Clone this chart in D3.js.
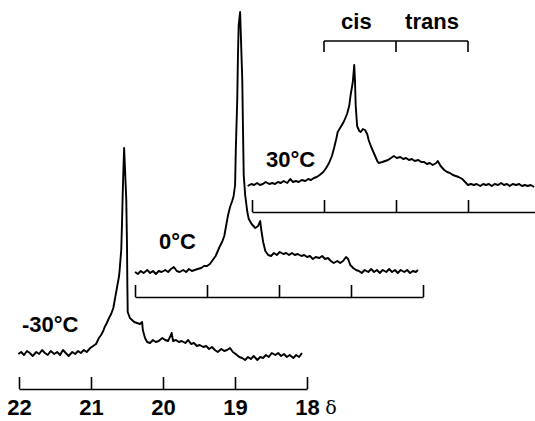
<!DOCTYPE html>
<html>
<head>
<meta charset="utf-8">
<script src="https://cdn.jsdelivr.net/npm/d3@7"></script>
<style>
  body { margin: 0; background: #fff; }
  svg { display: block; }
  .spec { fill: none; stroke: #000; stroke-width: 1.9; stroke-linejoin: round; }
  .frame .domain, .frame .tick line { stroke: #000; stroke-width: 1.6; }
  .lbl, .lbl text { font-family: "Liberation Sans", Arial, sans-serif; font-weight: bold; fill: #000; }
</style>
</head>
<body>
<div class="container"></div>
<script>
(function(){
  const config = {w: 535, h: 421, axisY: 389, tick: 12, font: 22};

  // chemical shift ticks (ppm)
  const ppmTicks = [22, 21, 20, 19, 18];
  const temps = ['-30°C', '0°C', '30°C'];
  const bracketTicks = [21, 20, 19];
  const bracketLabels = [{t: 'cis', ppm: 20.55}, {t: 'trans', ppm: 19.5}];

  // spectra: [ppm, intensity above axis]
  const specM30 = [[22.01,35],[21.97,37],[21.93,34],[21.89,38],[21.85,36],[21.81,33],[21.76,37],[21.72,35],[21.68,39],[21.64,36],
    [21.60,34],[21.56,38],[21.51,35],[21.47,37],[21.43,34],[21.39,39],[21.35,36],[21.31,33],[21.26,37],[21.22,35],
    [21.18,38],[21.14,36],[21.10,39],[21.06,37],[21.01,41],[20.97,43],[20.93,45],[20.89,51],[20.86,54],[20.83,58],
    [20.81,62],[20.78,66],[20.75,71],[20.72,75],[20.69,81],[20.67,89],[20.64,101],[20.61,113],[20.60,121],[20.58,139],
    [20.57,164],[20.56,194],[20.55,219],[20.54,241],[20.53,224],[20.51,189],[20.50,144],[20.495,104],[20.49,77],[20.46,71],
    [20.43,69],[20.40,67],[20.36,66],[20.32,65],[20.29,67],[20.28,59],[20.25,51],[20.22,47],[20.18,46],[20.14,49],
    [20.10,47],[20.06,48],[20.01,51],[19.97,49],[19.93,48],[19.89,54],[19.88,56],[19.86,48],[19.82,49],[19.78,47],
    [19.74,48],[19.69,46],[19.65,49],[19.61,45],[19.57,46],[19.53,43],[19.49,44],[19.44,42],[19.40,43],[19.36,40],
    [19.32,42],[19.28,39],[19.24,37],[19.19,40],[19.15,38],[19.11,39],[19.07,41],[19.03,37],[18.99,35],[18.94,32],
    [18.90,31],[18.86,29],[18.82,32],[18.78,30],[18.74,33],[18.69,29],[18.65,32],[18.61,31],[18.57,34],[18.53,32],
    [18.49,36],[18.44,34],[18.40,36],[18.36,33],[18.32,35],[18.28,32],[18.24,34],[18.19,31],[18.15,34],[18.11,32],[18.07,36]];

  const spec0 = [[22.00,25],[21.96,23],[21.92,26],[21.88,24],[21.83,27],[21.79,24],[21.75,26],[21.71,23],[21.67,26],[21.63,25],
    [21.58,27],[21.54,25],[21.50,28],[21.46,30],[21.42,26],[21.38,25],[21.33,27],[21.29,25],[21.25,28],[21.21,26],
    [21.17,27],[21.13,28],[21.08,29],[21.04,31],[21.00,31],[20.96,33],[20.92,37],[20.88,41],[20.85,46],[20.82,51],
    [20.79,55],[20.76,61],[20.74,69],[20.71,81],[20.68,90],[20.65,96],[20.63,101],[20.61,112],[20.60,147],[20.58,197],
    [20.57,242],[20.56,272],[20.54,285],[20.53,262],[20.51,217],[20.50,167],[20.49,122],[20.47,102],[20.44,85],[20.42,78],
    [20.38,73],[20.33,69],[20.29,71],[20.26,76],[20.25,69],[20.22,55],[20.19,46],[20.15,42],[20.11,41],[20.07,44],
    [20.03,42],[19.99,45],[19.94,43],[19.90,44],[19.86,42],[19.82,44],[19.78,42],[19.74,43],[19.69,41],[19.65,42],
    [19.61,40],[19.57,41],[19.53,38],[19.49,40],[19.44,39],[19.40,41],[19.36,38],[19.32,39],[19.28,36],[19.24,34],
    [19.19,36],[19.15,34],[19.11,36],[19.07,40],[19.04,38],[19.01,32],[18.97,29],[18.93,27],[18.89,26],[18.85,24],
    [18.81,27],[18.76,25],[18.72,28],[18.68,25],[18.64,27],[18.60,24],[18.56,27],[18.51,25],[18.47,28],[18.43,25],
    [18.39,27],[18.35,24],[18.31,27],[18.26,25],[18.22,27],[18.18,24],[18.14,26],[18.10,25],[18.07,27]];

  const spec30 = [[22.06,26],[22.01,28],[21.97,27],[21.93,29],[21.89,27],[21.85,28],[21.81,30],[21.76,28],[21.72,29],[21.68,28],
    [21.64,30],[21.60,29],[21.56,31],[21.51,29],[21.47,33],[21.43,30],[21.39,31],[21.35,30],[21.31,32],[21.26,31],
    [21.22,33],[21.18,32],[21.14,34],[21.10,35],[21.06,37],[21.01,40],[20.97,44],[20.93,49],[20.89,56],[20.86,64],
    [20.83,73],[20.81,80],[20.76,86],[20.72,91],[20.68,98],[20.65,106],[20.63,117],[20.60,130],[20.58,147],[20.57,132],
    [20.56,107],[20.54,86],[20.51,81],[20.49,80],[20.46,83],[20.43,82],[20.40,78],[20.38,72],[20.35,66],[20.32,61],
    [20.29,56],[20.26,51],[20.24,49],[20.19,50],[20.15,51],[20.11,52],[20.07,54],[20.03,56],[19.99,54],[19.94,55],
    [19.90,53],[19.86,54],[19.82,52],[19.78,53],[19.74,51],[19.69,52],[19.65,50],[19.61,50],[19.57,48],[19.53,49],
    [19.49,47],[19.44,49],[19.42,51],[19.38,46],[19.33,42],[19.29,40],[19.25,39],[19.21,37],[19.17,36],[19.13,35],
    [19.08,33],[19.04,30],[19.00,27],[18.96,28],[18.92,27],[18.88,28],[18.83,26],[18.79,28],[18.75,27],[18.71,28],
    [18.67,26],[18.63,28],[18.58,27],[18.54,29],[18.50,27],[18.46,28],[18.42,26],[18.38,28],[18.33,27],[18.29,28],
    [18.25,26],[18.21,27],[18.17,26],[18.13,27],[18.08,25]];

  const spectra = [specM30, spec0, spec30];

  // layout of the stacked frames (pixel offsets) and label spots
  const frames = [
    {dx: 0, dy: 0, lx: 22, ly: -57},
    {dx: 116, dy: -92, lx: 43, ly: -48},
    {dx: 233, dy: -177, lx: 33, ly: -45}
  ];

  const svg = d3.select('.container').append('svg')
    .attr('width', config.w)
    .attr('height', config.h)
    .attr('viewBox', '0 0 ' + config.w + ' ' + config.h);

  const x = d3.scaleLinear()
    .domain([22, 18])
    .range([19, 307]);

  const y = d3.scaleLinear()
    .domain([0, 300])
    .range([0, -300]);

  const line = d3.line()
    .x(d => x(d[0]))
    .y(d => y(d[1]));

  frames.forEach((f, i) => {
    const g = svg.append('g')
      .attr('transform', `translate(${f.dx},${config.axisY + f.dy})`);

    g.append('g')
      .attr('class', 'frame')
      .call(d3.axisTop(x)
        .tickValues(ppmTicks)
        .tickSize(config.tick)
        .tickSizeOuter(0)
        .tickFormat(''));

    g.append('path')
      .datum(spectra[i])
      .attr('class', 'spec')
      .attr('d', line);

    g.append('text')
      .attr('class', 'lbl')
      .attr('x', f.lx)
      .attr('y', f.ly)
      .attr('font-size', config.font)
      .text(temps[i]);
  });

  // ppm labels under the bottom frame
  svg.append('g')
    .attr('class', 'lbl')
    .attr('transform', `translate(0,${config.axisY})`)
    .call(d3.axisBottom(x)
      .tickValues(ppmTicks)
      .tickFormat(d3.format('d'))
      .tickSize(0)
      .tickPadding(10))
    .call(g => g.select('.domain').remove())
    .selectAll('text')
      .attr('font-size', config.font)
      .attr('fill', '#000');

  svg.append('text')
    .attr('x', 331)
    .attr('y', 414)
    .attr('text-anchor', 'middle')
    .attr('font-family', '"DejaVu Serif", "Liberation Serif", serif')
    .attr('font-size', 19)
    .text('δ');

  // cis / trans bracket above the 30°C spectrum
  const top = frames[2];
  const br = svg.append('g')
    .attr('transform', `translate(${top.dx},41)`);

  br.append('path')
    .attr('fill', 'none')
    .attr('stroke', '#000')
    .attr('stroke-width', 1.6)
    .attr('d', 'M' + x(bracketTicks[0]) + ',0H' + x(bracketTicks[2]));

  br.selectAll('line.bt')
    .data(bracketTicks)
    .enter().append('line')
      .attr('class', 'bt')
      .attr('x1', d => x(d))
      .attr('x2', d => x(d))
      .attr('y1', 0)
      .attr('y2', 11)
      .attr('stroke', '#000')
      .attr('stroke-width', 1.6);

  br.selectAll('text')
    .data(bracketLabels)
    .enter().append('text')
      .attr('class', 'lbl')
      .attr('x', d => x(d.ppm))
      .attr('y', -12)
      .attr('text-anchor', 'middle')
      .attr('font-size', config.font)
      .text(d => d.t);
})();
</script>
</body>
</html>
